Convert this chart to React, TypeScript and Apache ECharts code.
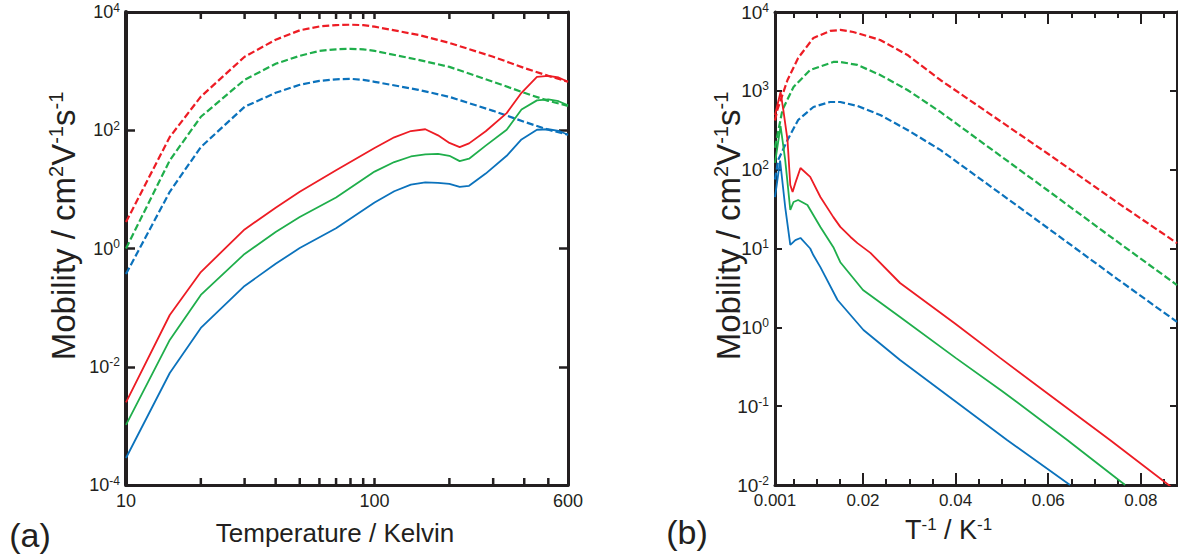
import React, { useEffect, useRef } from 'react';
import * as echarts from 'echarts';

const FONT = '"Liberation Sans", Arial, Helvetica, sans-serif';
const INK = '#231f20';
const RED = '#ed1c24';
const GREEN = '#1fae4b';
const BLUE = '#0b72bc';

// ---------- panel (a): mobility vs temperature ----------
const A_T_DASHED = [10, 15, 20, 30, 40, 50, 60, 70, 80, 90, 100, 150, 200, 300, 400, 500, 600];
const A_RED_DASHED = [2.8, 77, 370, 1750, 3400, 4900, 5700, 6000, 6100, 6000, 5650, 4100, 3000, 1750, 1130, 830, 660];
const A_GREEN_DASHED = [1.0, 31, 169, 713, 1330, 1815, 2200, 2340, 2385, 2340, 2200, 1550, 1180, 660, 430, 314, 259];
const A_BLUE_DASHED = [0.37, 9.1, 52, 249, 430, 587, 685, 727, 741, 713, 660, 483, 367, 213, 139, 102, 84];

const A_T_SOLID = [10, 15, 20, 30, 40, 50, 70, 100, 120, 140, 160, 180, 200, 220, 240, 280, 340, 390, 450, 500, 550, 600];
const A_RED_SOLID = [0.0025, 0.075, 0.4, 2.1, 4.9, 9.1, 21, 50, 76, 97, 104, 82, 61, 52, 60, 96, 195, 430, 800, 830, 780, 660];
const A_GREEN_SOLID = [0.00104, 0.0284, 0.164, 0.81, 1.9, 3.4, 7.3, 20, 29, 36, 39, 40, 37, 30, 33, 55, 102, 225, 320, 333, 310, 263];
const A_BLUE_SOLID = [0.000286, 0.00785, 0.0453, 0.233, 0.55, 1.02, 2.2, 6.0, 9.3, 12.0, 13.1, 12.9, 12.4, 11.0, 11.5, 18.5, 37, 70, 102, 104, 98, 84];

const A_X_MIN = 10;
const A_X_MAX = 600;
const A_Y_MIN = 1e-4;
const A_Y_MAX = 1e4;
const A_X_MINOR_TICKS = [20, 30, 40, 50, 60, 70, 80, 90, 200, 300, 400, 500];

// ---------- panel (b): mobility vs inverse temperature ----------
const B_X_RED_DASHED = [0.001, 0.0015, 0.0037, 0.006, 0.0093, 0.0129, 0.0151, 0.0179, 0.0237, 0.0296, 0.0367, 0.06, 0.075, 0.0878];
const B_RED_DASHED = [420, 571, 1373, 2610, 4690, 5750, 5920, 5580, 4420, 2850, 1373, 158, 38, 11.7];
const B_X_GREEN_DASHED = [0.001, 0.0026, 0.005, 0.0086, 0.0136, 0.0151, 0.0188, 0.0237, 0.0296, 0.0367, 0.06, 0.075, 0.0878];
const B_GREEN_DASHED = [190, 571, 1120, 1840, 2325, 2325, 2130, 1590, 1025, 540, 54, 12.1, 3.44];
const B_X_BLUE_DASHED = [0.001, 0.0017, 0.0037, 0.006, 0.0093, 0.0129, 0.0151, 0.0188, 0.0237, 0.0296, 0.0367, 0.06, 0.075, 0.0878];
const B_BLUE_DASHED = [75, 133, 238, 427, 624, 722, 722, 643, 494, 319, 178, 18, 4.07, 1.17];

const B_X_RED_SOLID = [0.001, 0.0022, 0.0028, 0.0037, 0.0043, 0.0048, 0.0054, 0.0065, 0.0086, 0.0108, 0.0136, 0.0151, 0.0173, 0.0188, 0.0216, 0.028, 0.04, 0.0496, 0.06, 0.0734, 0.0865];
const B_RED_SOLID = [494, 967, 571, 238, 64, 52, 68, 105, 81, 45, 25, 18.8, 14, 11.7, 8.8, 3.65, 1.1, 0.41, 0.143, 0.037, 0.0095];
const B_X_GREEN_SOLID = [0.001, 0.0022, 0.0032, 0.0043, 0.005, 0.006, 0.008, 0.0108, 0.0136, 0.0151, 0.02, 0.028, 0.04, 0.05, 0.0641, 0.0766];
const B_GREEN_SOLID = [122, 358, 133, 30.8, 38.9, 41.2, 35.6, 18.7, 10.4, 6.7, 2.98, 1.35, 0.41, 0.156, 0.0373, 0.01];
const B_X_BLUE_SOLID = [0.001, 0.0021, 0.0032, 0.0043, 0.0054, 0.0065, 0.0086, 0.0093, 0.0108, 0.0145, 0.0201, 0.028, 0.0511, 0.0647];
const B_BLUE_SOLID = [45, 130, 33.6, 11.1, 12.8, 13.6, 10, 8.2, 5.8, 2.22, 0.925, 0.385, 0.0373, 0.01];

const B_X_MIN = 0.001;
const B_X_MAX = 0.0878;
const B_Y_MIN = 1e-2;
const B_Y_MAX = 1e4;
const B_X_LABELS = [0.001, 0.02, 0.04, 0.06, 0.08];

const pairs = (xs: number[], ys: number[]) => xs.map((x, i) => [x, ys[i]]);

const supFormatter = (v: number) => `{b|10}{s|${Math.round(Math.log10(v))}}`;

const tickRich = (size: number, sup: number) => ({
  b: { fontSize: size, fontFamily: FONT, color: INK, lineHeight: size + 2 },
  s: { fontSize: sup, fontFamily: FONT, color: INK, padding: [0, 0, 9, 0] },
});

const line = (xs: number[], ys: number[], color: string, dashed: boolean, idx: number) => ({
  type: 'line',
  data: pairs(xs, ys),
  xAxisIndex: idx,
  yAxisIndex: idx,
  symbol: 'none',
  showSymbol: false,
  silent: true,
  lineStyle: { color, width: dashed ? 2.2 : 1.8, type: dashed ? [7, 3] : 'solid' },
});

// minor ticks of the log temperature axis (bottom: dir = -1 goes up, top: dir = +1 goes down)
const minorTickSeries = (values: number[], yAt: number, dir: number) => ({
  type: 'custom',
  xAxisIndex: 0,
  yAxisIndex: 0,
  data: values.map((v) => [v, yAt]),
  renderItem: (_params: any, api: any) => {
    const p = api.coord([api.value(0), api.value(1)]);
    return {
      type: 'rect',
      shape: { x: p[0] - 1.25, y: dir < 0 ? p[1] - 7 : p[1], width: 2.5, height: 7 },
      style: { fill: INK },
    };
  },
});

const titleRich = (m: number, s: number, lift: number) => ({
  m: { fontSize: m, fontFamily: FONT, fill: INK, color: INK },
  s: { fontSize: s, fontFamily: FONT, fill: INK, color: INK, padding: [0, 0, lift, 0] },
});

function buildTitles() {
  return [
    {
      type: 'text', x: 335, y: 533, silent: true,
      style: { text: 'Temperature / Kelvin', fontSize: 26, fontFamily: FONT, fill: INK, align: 'center', verticalAlign: 'middle' },
    },
    {
      type: 'text', x: 905, y: 530, silent: true,
      style: { text: '{m|T}{s|-1}{m| / K}{s|-1}', rich: titleRich(27, 17, 12), fill: INK, align: 'left', verticalAlign: 'middle' },
    },
    {
      type: 'text', x: 63, y: 226, rotation: Math.PI / 2, silent: true,
      style: { text: '{m|Mobility / cm}{s|2}{m|V}{s|-1}{m|s}{s|-1}', rich: titleRich(33, 20, 14), fill: INK, align: 'center', verticalAlign: 'middle' },
    },
    {
      type: 'text', x: 728, y: 226, rotation: Math.PI / 2, silent: true,
      style: { text: '{m|Mobility / cm}{s|2}{m|V}{s|-1}{m|s}{s|-1}', rich: titleRich(33, 20, 14), fill: INK, align: 'center', verticalAlign: 'middle' },
    },
    {
      type: 'text', x: 30, y: 535, silent: true,
      style: { text: '(a)', fontSize: 34, fontFamily: FONT, fill: INK, align: 'center', verticalAlign: 'middle' },
    },
    {
      type: 'text', x: 687, y: 532, silent: true,
      style: { text: '(b)', fontSize: 34, fontFamily: FONT, fill: INK, align: 'center', verticalAlign: 'middle' },
    },
  ];
}

export default function App() {
  const ref = useRef<HTMLDivElement>(null);

  useEffect(() => {
    document.body.style.margin = '0';
    if (!ref.current) return;
    const chart = echarts.init(ref.current, undefined, { renderer: 'svg' });

    const axisLine = (w: number) => ({ show: true, onZero: false, lineStyle: { color: INK, width: w } });
    const ticks = (len: number, w: number) => ({ show: true, inside: true, length: len, lineStyle: { color: INK, width: w } });
    const minor = { show: true, splitNumber: 4, length: 6, lineStyle: { color: INK, width: 2 } };

    const aX = (position: string, labels: boolean) => ({
      gridIndex: 0, type: 'log', logBase: 10, min: A_X_MIN, max: A_X_MAX, position,
      axisLine: axisLine(3), axisTick: ticks(7, 2.5), splitLine: { show: false }, minorTick: { show: false },
      axisLabel: labels
        ? { fontSize: 18, fontFamily: FONT, color: INK, margin: 7, formatter: (v: number) => String(Math.round(v)) }
        : { show: false },
    });
    const bX = (position: string, labels: boolean) => ({
      gridIndex: 1, type: 'value', min: B_X_MIN, max: B_X_MAX, splitNumber: 5, position,
      axisLine: axisLine(3), axisTick: ticks(12, 2), minorTick: minor, splitLine: { show: false },
      axisLabel: labels
        ? {
          customValues: B_X_LABELS, fontSize: 17, fontFamily: FONT, color: INK, margin: 7,
          formatter: (v: number) => String(Number(v.toFixed(3))),
        }
        : { show: false },
    });
    const aY = (position: string, labels: boolean, w: number) => ({
      gridIndex: 0, type: 'log', logBase: 10, min: A_Y_MIN, max: A_Y_MAX, interval: 2, position,
      axisLine: axisLine(w), axisTick: ticks(9, 2.5), splitLine: { show: false }, minorTick: { show: false },
      axisLabel: labels ? { margin: 6, formatter: supFormatter, rich: tickRich(18, 12) } : { show: false },
    });
    const bY = (position: string, labels: boolean) => ({
      gridIndex: 1, type: 'log', logBase: 10, min: B_Y_MIN, max: B_Y_MAX, interval: 1, position,
      axisLine: axisLine(3), axisTick: ticks(7, 2), splitLine: { show: false }, minorTick: { show: false },
      axisLabel: labels ? { margin: 6, formatter: supFormatter, rich: tickRich(19, 12) } : { show: false },
    });

    const option: any = {
      animation: false,
      grid: [
        { left: 126, top: 12, width: 442, height: 473 },
        { left: 775, top: 12, width: 402, height: 473 },
      ],
      xAxis: [aX('bottom', true), bX('bottom', true), aX('top', false), bX('top', false)],
      yAxis: [aY('left', true, 4), bY('left', true), aY('right', false, 3), bY('right', false)],
      series: [
        line(A_T_DASHED, A_RED_DASHED, RED, true, 0),
        line(A_T_DASHED, A_GREEN_DASHED, GREEN, true, 0),
        line(A_T_DASHED, A_BLUE_DASHED, BLUE, true, 0),
        line(A_T_SOLID, A_RED_SOLID, RED, false, 0),
        line(A_T_SOLID, A_GREEN_SOLID, GREEN, false, 0),
        line(A_T_SOLID, A_BLUE_SOLID, BLUE, false, 0),
        line(B_X_RED_DASHED, B_RED_DASHED, RED, true, 1),
        line(B_X_GREEN_DASHED, B_GREEN_DASHED, GREEN, true, 1),
        line(B_X_BLUE_DASHED, B_BLUE_DASHED, BLUE, true, 1),
        line(B_X_RED_SOLID, B_RED_SOLID, RED, false, 1),
        line(B_X_GREEN_SOLID, B_GREEN_SOLID, GREEN, false, 1),
        line(B_X_BLUE_SOLID, B_BLUE_SOLID, BLUE, false, 1),
        minorTickSeries(A_X_MINOR_TICKS, A_Y_MIN, -1),
        minorTickSeries(A_X_MINOR_TICKS, A_Y_MAX, 1),
      ],
      graphic: { elements: buildTitles() },
    };

    chart.setOption(option);

    return () => chart.dispose();
  }, []);

  return <div ref={ref} style={{ width: 1178, height: 559 }} />;
}
